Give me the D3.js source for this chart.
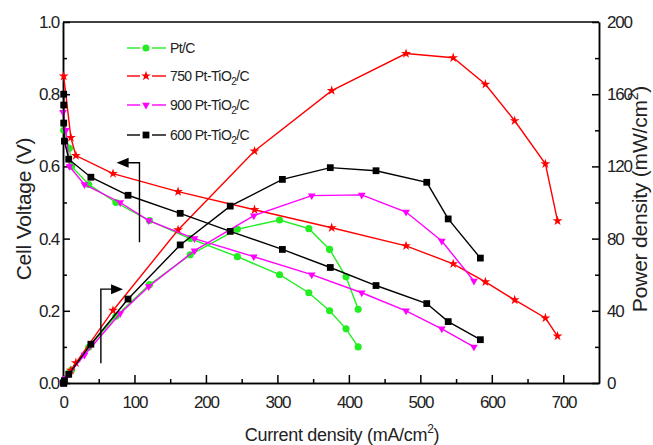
<!DOCTYPE html>
<html>
<head>
<meta charset="utf-8">
<script src="https://cdn.jsdelivr.net/npm/d3@7"></script>
<style>
    body { margin: 0; background: #fff; }
    svg { font-family: "Liberation Sans", Arial, sans-serif; }
    .axis text { font-size: 17px; fill: #222; letter-spacing: -1.2px; }
    .axis path, .axis line { stroke: #000; stroke-width: 1.5; }
    .title { fill: #222; }
    .legendText { font-size: 14px; fill: #222; letter-spacing: -0.6px; }
</style>
</head>
<body>
<script>
//series names
var seriesNames = ["Pt/C", "750 Pt-TiO2/C", "900 Pt-TiO2/C", "600 Pt-TiO2/C"];

//Pt/C data
var ptcCurrent = [1, 9, 12, 36, 74, 121, 178, 244, 303, 344, 373, 396, 413];
var ptcVoltage = [0.70, 0.65, 0.60, 0.55, 0.50, 0.45, 0.40, 0.35, 0.30, 0.25, 0.20, 0.15, 0.10];
var ptcPower = [0, 5.9, 7.2, 19.8, 37.0, 54.5, 71.0, 85.2, 90.3, 85.5, 74.0, 58.8, 40.8];

//750 Pt-TiO2/C data
var t750Current = [1, 11, 18, 70, 161, 268, 376, 480, 546, 591, 632, 675, 692];
var t750Voltage = [0.85, 0.68, 0.63, 0.58, 0.53, 0.48, 0.43, 0.38, 0.33, 0.28, 0.23, 0.18, 0.13];
var t750Power = [0, 7.0, 11.2, 40.2, 84.8, 128.5, 162.0, 182.5, 180.2, 165.5, 145.3, 121.4, 89.8];

//900 Pt-TiO2/C data
var t900Current = [0, 4, 9, 30, 80, 120, 184, 267, 348, 418, 480, 530, 575];
var t900Voltage = [0.75, 0.70, 0.60, 0.55, 0.50, 0.45, 0.40, 0.35, 0.30, 0.25, 0.20, 0.15, 0.10];
var t900Power = [0, 2.8, 5.4, 15.5, 38.5, 53.5, 73.3, 92.7, 103.8, 104.2, 94.7, 78.7, 56.5];

//600 Pt-TiO2/C data
var t600Current = [1, 1, 1, 2, 8, 39, 91, 164, 234, 307, 374, 438, 509, 539, 584];
var t600Voltage = [0.80, 0.77, 0.72, 0.67, 0.62, 0.57, 0.52, 0.47, 0.42, 0.37, 0.32, 0.27, 0.22, 0.17, 0.12];
var t600Power = [0, 0, 0, 1.3, 4.8, 21.5, 46.5, 76.5, 98.0, 112.8, 119.3, 117.6, 111.2, 90.9, 69.2];

//tick values
var xTicks = [0, 100, 200, 300, 400, 500, 600, 700];
var vTicks = [0.0, 0.2, 0.4, 0.6, 0.8, 1.0];
var pTicks = [0, 40, 80, 120, 160, 200];

//execute script when window is loaded
window.onload = function(){

    //SVG dimension variables
    var w = 653, h = 445;
    var left = 63, right = 599, top = 22, bottom = 383;

    //series styles
    var colors = ["#22ee22", "#ff0000", "#ff00ff", "#000000"];
    var symbols = [d3.symbolCircle, d3.symbolStar, d3.symbolTriangle, d3.symbolSquare];
    var sizes = [40, 30, 26, 46];
    var rotations = [0, 0, 180, 0];

    var series = [
        {current: ptcCurrent, voltage: ptcVoltage, power: ptcPower},
        {current: t750Current, voltage: t750Voltage, power: t750Power},
        {current: t900Current, voltage: t900Voltage, power: t900Power},
        {current: t600Current, voltage: t600Voltage, power: t600Power}
    ];

    //create the SVG container
    var container = d3.select("body")
        .append("svg")
        .attr("width", w)
        .attr("height", h);

    //create scales
    var x = d3.scaleLinear().domain([0, 750]).range([left, right]);
    var yV = d3.scaleLinear().domain([0, 1]).range([bottom, top]);
    var yP = d3.scaleLinear().domain([0, 200]).range([bottom, top]);

    //minor ticks
    var xMinor = d3.range(50, 750, 100);
    var vMinor = d3.range(0.1, 1, 0.2);
    var pMinor = d3.range(20, 200, 40);

    container.append("g").attr("class", "axis")
        .attr("transform", "translate(0," + bottom + ")")
        .call(d3.axisBottom(x).tickValues(xMinor).tickSizeInner(-4).tickSizeOuter(0).tickFormat(""));
    container.append("g").attr("class", "axis")
        .attr("transform", "translate(" + left + ",0)")
        .call(d3.axisLeft(yV).tickValues(vMinor).tickSizeInner(-4).tickSizeOuter(0).tickFormat(""));
    container.append("g").attr("class", "axis")
        .attr("transform", "translate(" + right + ",0)")
        .call(d3.axisRight(yP).tickValues(pMinor).tickSizeInner(-4).tickSizeOuter(0).tickFormat(""));

    //major axes
    container.append("g").attr("class", "axis")
        .attr("transform", "translate(0," + bottom + ")")
        .call(d3.axisBottom(x).tickValues(xTicks).tickSizeInner(-8).tickSizeOuter(0).tickPadding(13));
    container.append("g").attr("class", "axis")
        .attr("transform", "translate(" + left + ",0)")
        .call(d3.axisLeft(yV).tickValues(vTicks).tickSizeInner(-7).tickSizeOuter(0).tickPadding(4).tickFormat(d3.format(".1f")));
    container.append("g").attr("class", "axis")
        .attr("transform", "translate(" + right + ",0)")
        .call(d3.axisRight(yP).tickValues(pTicks).tickSizeInner(-7).tickSizeOuter(0).tickPadding(8));

    //top frame line
    container.append("line")
        .attr("x1", left).attr("x2", right)
        .attr("y1", top).attr("y2", top)
        .style("stroke", "#000")
        .style("stroke-width", 1.5);

    //line generators
    var vLine = d3.line()
        .x(function(d){ return x(d[0]); })
        .y(function(d){ return yV(d[1]); });
    var pLine = d3.line()
        .x(function(d){ return x(d[0]); })
        .y(function(d){ return yP(d[1]); });

    //draw each series, voltage and power
    series.forEach(function(s, i){
        var vPts = s.current.map(function(c, j){ return [c, s.voltage[j]]; });
        var pPts = s.current.map(function(c, j){ return [c, s.power[j]]; });
        var g = container.append("g");
        [[vPts, vLine, yV], [pPts, pLine, yP]].forEach(function(set){
            g.append("path")
                .datum(set[0])
                .attr("d", set[1])
                .style("fill", "none")
                .style("stroke", colors[i])
                .style("stroke-width", 1.4);
            g.selectAll(null)
                .data(set[0])
                .enter()
                .append("path")
                .attr("d", d3.symbol().type(symbols[i]).size(sizes[i]))
                .attr("transform", function(d){
                    return "translate(" + x(d[0]) + "," + set[2](d[1]) + ") rotate(" + rotations[i] + ")";
                })
                .style("fill", colors[i]);
        });
    });

    //create legend
    var legend = container.selectAll(".legend")
        .data(seriesNames)
        .enter()
        .append("g")
        .attr("class", "legend")
        .attr("transform", function(d, i){
            return "translate(0," + [48, 76, 105, 135][i] + ")";
        });
    legend.append("line")
        .attr("x1", 127).attr("x2", 140).attr("y1", 0).attr("y2", 0)
        .style("stroke", function(d, i){ return colors[i]; })
        .style("stroke-width", 1.4);
    legend.append("line")
        .attr("x1", 152).attr("x2", 166).attr("y1", 0).attr("y2", 0)
        .style("stroke", function(d, i){ return colors[i]; })
        .style("stroke-width", 1.4);
    legend.append("path")
        .attr("d", function(d, i){ return d3.symbol().type(symbols[i]).size(sizes[i])(); })
        .attr("transform", function(d, i){ return "translate(146,0) rotate(" + rotations[i] + ")"; })
        .style("fill", function(d, i){ return colors[i]; });
    var legendText = legend.append("text")
        .attr("class", "legendText")
        .attr("x", 170)
        .attr("y", 5);
    legendText.each(function(d){
        var t = d3.select(this);
        var parts = d.split("2");
        if (parts.length > 1){
            t.append("tspan").text(parts[0]);
            t.append("tspan").attr("dy", 4).style("font-size", "10px").text("2");
            t.append("tspan").attr("dy", -4).text(parts[1]);
        } else {
            t.text(d);
        }
    });

    //arrows
    var arrowColor = "#000";
    container.append("polyline")
        .attr("points", [[x(107), yV(0.39)], [x(107), yV(0.61)], [x(84), yV(0.61)]].join(" "))
        .style("fill", "none").style("stroke", arrowColor).style("stroke-width", 1.4);
    container.append("path")
        .attr("d", "M" + x(75) + "," + yV(0.61) + "l12,-5l0,10z")
        .style("fill", arrowColor);
    container.append("polyline")
        .attr("points", [[x(53), yV(0.055)], [x(53), yV(0.26)], [x(72), yV(0.26)]].join(" "))
        .style("fill", "none").style("stroke", arrowColor).style("stroke-width", 1.4);
    container.append("path")
        .attr("d", "M" + x(84) + "," + yV(0.26) + "l-12,-5l0,10z")
        .style("fill", arrowColor);

    //axis titles
    var xTitle = container.append("text")
        .attr("class", "title")
        .attr("text-anchor", "middle")
        .attr("x", 342)
        .attr("y", 441)
        .style("font-size", "18px")
        .style("letter-spacing", "-0.3px");
    xTitle.append("tspan").text("Current density (mA/cm");
    xTitle.append("tspan").attr("dy", -8).style("font-size", "12px").text("2");
    xTitle.append("tspan").attr("dy", 8).text(")");

    container.append("text")
        .attr("class", "title")
        .attr("text-anchor", "middle")
        .attr("transform", "translate(31,209) rotate(-90)")
        .style("font-size", "21px")
        .style("letter-spacing", "-0.2px")
        .text("Cell Voltage (V)");

    var pTitle = container.append("text")
        .attr("class", "title")
        .attr("text-anchor", "middle")
        .attr("transform", "translate(647,199) rotate(-90)")
        .style("font-size", "21px")
        .style("letter-spacing", "-0.2px");
    pTitle.append("tspan").text("Power density (mW/cm");
    pTitle.append("tspan").attr("dy", -9).style("font-size", "14px").text("2");
    pTitle.append("tspan").attr("dy", 9).text(")");
};
</script>
</body>
</html>
